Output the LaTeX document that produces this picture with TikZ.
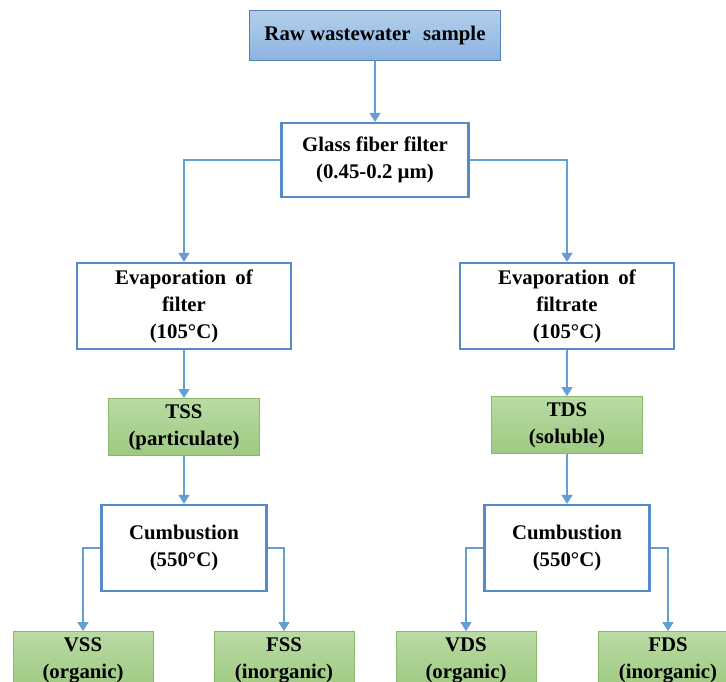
\documentclass[tikz,border=0pt]{standalone}
\usepackage{fontspec}
\setmainfont{Liberation Serif}
\usetikzlibrary{arrows.meta}
\definecolor{linec}{RGB}{100,158,212}
\definecolor{boxb}{RGB}{86,140,198}
\definecolor{topb}{RGB}{84,130,180}
\definecolor{toptop}{RGB}{180,207,236}
\definecolor{topbot}{RGB}{140,180,224}
\definecolor{grtop}{RGB}{186,219,163}
\definecolor{grbot}{RGB}{158,201,130}
\definecolor{grb}{RGB}{138,184,108}
\tikzset{
  txt/.style={font=\bfseries\fontsize{20.8}{27}\selectfont, align=center, inner sep=0pt, text=black},
  multi/.style={execute at begin node={\rule{0pt}{24pt}}},
  whitebox/.style={txt, multi, draw=boxb, line width=2.2pt, fill=white},
  topbox/.style={txt, draw=topb, line width=1pt, top color=toptop, bottom color=topbot},
  greenbox/.style={txt, multi, draw=grb, line width=0.8pt, top color=grtop, bottom color=grbot},
  arr/.style={draw=linec, line width=1.3pt, -{Triangle[width=11pt,length=9pt]}},
}
\begin{document}
\begin{tikzpicture}[x=1pt,y=-1pt]
\useasboundingbox (0,0) rectangle (726,681);
\clip (0,0) rectangle (726,681);
\node[topbox, minimum width=251pt, minimum height=50pt] (raw) at (375,35) {Raw wastewater\hspace{0.35em} sample};
\node[whitebox, minimum width=187pt, minimum height=74pt] (glass) at (375,160) {Glass fiber filter\\(0.45-0.2 µm)};
\node[whitebox, minimum width=214pt, minimum height=86pt] (evl) at (184,306) {Evaporation\hspace{0.2em} of\\filter\\(105°C)};
\node[whitebox, minimum width=214pt, minimum height=86pt] (evr) at (567,306) {Evaporation\hspace{0.2em} of\\filtrate\\(105°C)};
\node[greenbox, minimum width=151pt, minimum height=57pt] (tss) at (184,427) {TSS\\(particulate)};
\node[greenbox, minimum width=151pt, minimum height=57pt] (tds) at (567,425) {TDS\\(soluble)};
\node[whitebox, minimum width=165pt, minimum height=86pt] (cbl) at (184,548) {Cumbustion\\(550°C)};
\node[whitebox, minimum width=165pt, minimum height=86pt] (cbr) at (567,548) {Cumbustion\\(550°C)};
\node[greenbox, minimum width=140pt, minimum height=57pt] (vss) at (83,660) {VSS\\(organic)};
\node[greenbox, minimum width=140pt, minimum height=57pt] (fss) at (284,660) {FSS\\(inorganic)};
\node[greenbox, minimum width=140pt, minimum height=57pt] (vds) at (466,660) {VDS\\(organic)};
\node[greenbox, minimum width=140pt, minimum height=57pt] (fds) at (668,660) {FDS\\(inorganic)};
\draw[arr] (raw) -- (glass);
\draw[arr] (glass.west) -| (evl.north);
\draw[arr] (glass.east) -| (evr.north);
\draw[arr] (evl) -- (tss);
\draw[arr] (evr) -- (tds);
\draw[arr] (tss) -- (cbl);
\draw[arr] (tds) -- (cbr);
\draw[arr] (cbl.west) -| (vss.north);
\draw[arr] (cbl.east) -| (fss.north);
\draw[arr] (cbr.west) -| (vds.north);
\draw[arr] (cbr.east) -| (fds.north);
\end{tikzpicture}
\end{document}
